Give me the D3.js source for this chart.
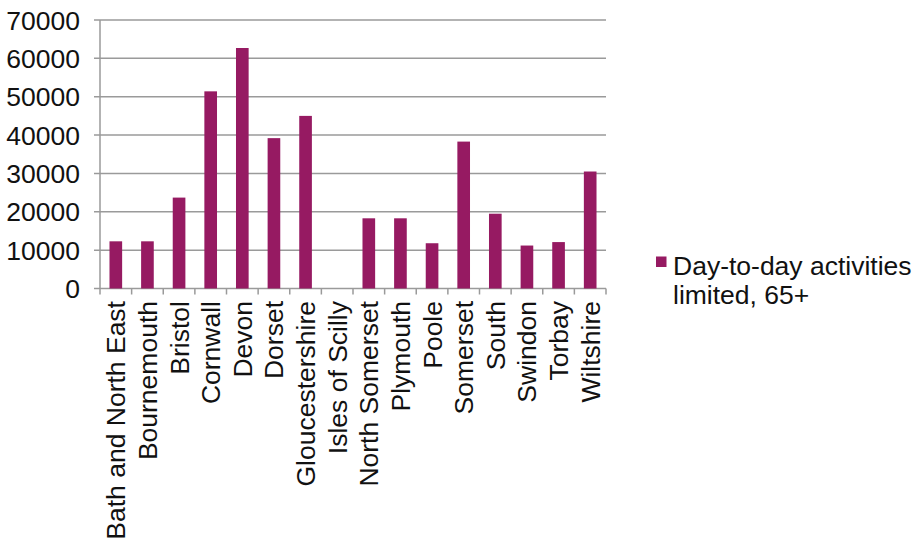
<!DOCTYPE html>
<html>
<head>
<meta charset="utf-8">
<script src="https://cdn.jsdelivr.net/npm/d3@7"></script>
<style>
  html, body { margin: 0; padding: 0; background: #fff; }
  svg { display: block; font-family: "Liberation Sans", Arial, Helvetica, sans-serif; }
</style>
</head>
<body>
<svg id="chart" width="912" height="543"></svg>
<script>
const categories = ["Bath and North East", "Bournemouth", "Bristol", "Cornwall", "Devon", "Dorset",
  "Gloucestershire", "Isles of Scilly", "North Somerset", "Plymouth", "Poole", "Somerset",
  "South", "Swindon", "Torbay", "Wiltshire"];
const values = [12300, 12300, 23700, 51400, 62700, 39200, 45000, 0, 18300, 18300, 11800, 38300,
  19500, 11200, 12100, 30500];
const yTicks = [0, 10000, 20000, 30000, 40000, 50000, 60000, 70000];
const seriesName = ["Day-to-day activities", "limited, 65+"];

const svg = d3.select("#chart");
const plotLeft = 100, plotRight = 606, plotTop = 20, plotBottom = 288.5;
const gridColor = "#9a9a9a";
const barColor = "#961a62";
const fontSize = 26.5;

const x = d3.scaleBand().domain(categories).range([plotLeft, plotRight]);
const y = d3.scaleLinear().domain([0, 70000]).range([plotBottom, plotTop]);

// horizontal gridlines
svg.append("g").selectAll("line").data(yTicks).join("line")
  .attr("x1", plotLeft - 6).attr("x2", plotRight)
  .attr("y1", d => y(d)).attr("y2", d => y(d))
  .attr("stroke", gridColor).attr("stroke-width", 1.5);

// y axis line
svg.append("line").attr("x1", plotLeft).attr("x2", plotLeft).attr("y1", plotTop).attr("y2", plotBottom)
  .attr("stroke", gridColor).attr("stroke-width", 1.5);

// y tick labels
svg.append("g").selectAll("text").data(yTicks).join("text")
  .attr("x", 80).attr("y", d => y(d)).attr("dy", "0.36em")
  .attr("text-anchor", "end").attr("font-size", fontSize).attr("fill", "#111")
  .text(d => d);

// category tick marks
const tickXs = categories.map(c => x(c)).concat([plotRight]);
svg.append("g").selectAll("line").data(tickXs).join("line")
  .attr("x1", d => d).attr("x2", d => d).attr("y1", plotBottom).attr("y2", plotBottom + 6)
  .attr("stroke", gridColor).attr("stroke-width", 1.5);

// bars
const bw = x.bandwidth() * 0.4;
svg.append("g").selectAll("rect").data(categories).join("rect")
  .attr("x", d => x(d) + x.bandwidth() / 2 - bw / 2)
  .attr("y", (d, i) => y(values[i]))
  .attr("width", bw)
  .attr("height", (d, i) => plotBottom - y(values[i]))
  .attr("fill", barColor);

// category labels, rotated
svg.append("g").selectAll("text").data(categories).join("text")
  .attr("transform", d => `translate(${x(d) + x.bandwidth() / 2 + 9.5},301) rotate(-90)`)
  .attr("text-anchor", "end").attr("font-size", fontSize).attr("fill", "#111")
  .text(d => d);

// legend
svg.append("rect").attr("x", 656).attr("y", 256.5).attr("width", 10.5).attr("height", 10.5)
  .attr("fill", barColor);
svg.append("text").attr("font-size", fontSize).attr("fill", "#111")
  .selectAll("tspan").data(seriesName).join("tspan")
  .attr("x", 673).attr("y", (d, i) => 275 + i * 29)
  .text(d => d);
</script>
</body>
</html>
